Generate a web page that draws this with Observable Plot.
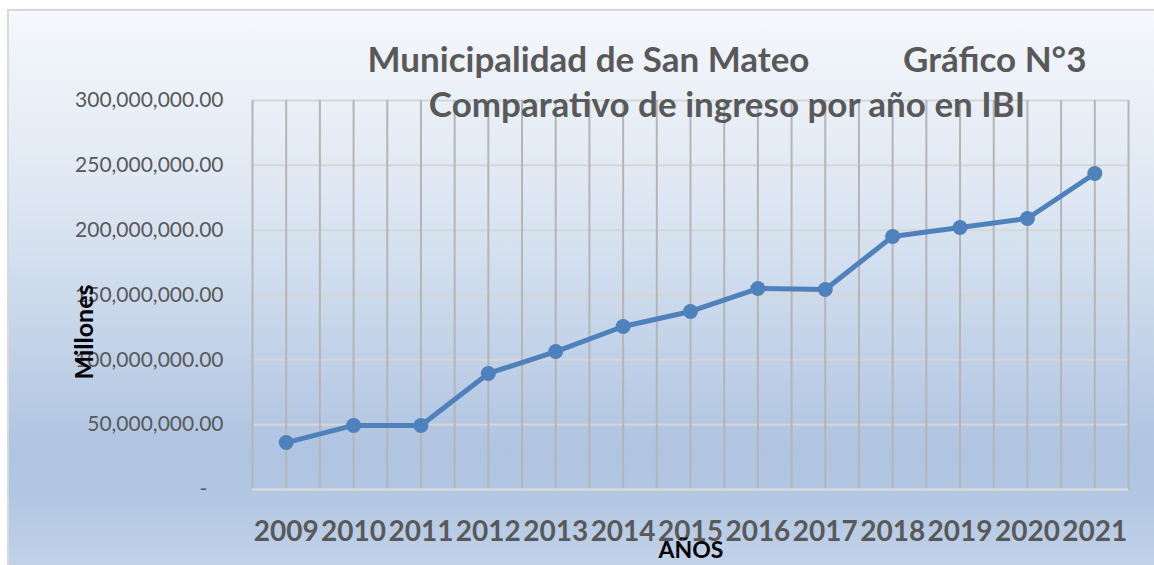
<!DOCTYPE html>
<html>
<head>
<meta charset="utf-8">
<script src="https://cdn.jsdelivr.net/npm/d3@7"></script>
<script src="https://cdn.jsdelivr.net/npm/@observablehq/plot@0.6"></script>
<style>
  html, body { margin: 0; padding: 0; background: #ffffff; }
  #wrap { position: relative; width: 1154px; height: 565px; overflow: hidden; background: #ffffff; }
  #bg { position: absolute; left: 7px; top: 9px; width: 1160px; height: 570px; box-sizing: border-box;
        border: 2px solid #d9d9d9;
        background: linear-gradient(to bottom, #f5f8fc 0%, #dce6f2 35%, #afc4e1 78%, #b2c7e2 86%, #c4d4ea 100%); }
  #chart { position: absolute; left: 0; top: 0; }
  #overlay { position: absolute; left: 0; top: 0; pointer-events: none; }
</style>
</head>
<body>
<div id="wrap">
  <div id="bg"></div>
  <div id="chart"></div>
  <svg id="overlay" width="1154" height="565" font-family="Lato, 'Open Sans', sans-serif">
    <text x="727" y="72" text-anchor="middle" font-size="35" font-weight="bold" fill="#595959" xml:space="preserve">Municipalidad de San Mateo           Gráfico N°3</text>
    <text x="727" y="117" text-anchor="middle" font-size="35" font-weight="bold" fill="#595959">Comparativo de ingreso por año en IBI</text>
    <text transform="translate(93,332) rotate(-90)" text-anchor="middle" font-size="25" font-weight="bold" fill="#000000">Millones</text>
    <text x="691" y="558" text-anchor="middle" font-size="23" font-weight="bold" fill="#000000">AÑOS</text>
  </svg>
</div>
<script>
const years = [2009, 2010, 2011, 2012, 2013, 2014, 2015, 2016, 2017, 2018, 2019, 2020, 2021];
const ingresos = [36.2e6, 49.4e6, 49.4e6, 89.5e6, 106.4e6, 125.7e6, 137.3e6, 155.0e6, 154.2e6, 195.1e6, 202.1e6, 209.0e6, 243.7e6];
const yTicks = [0, 50e6, 100e6, 150e6, 200e6, 250e6, 300e6];

const data = years.map((year, i) => ({year, value: ingresos[i]}));
const xGrid = years.flatMap(y => [y - 0.5, y]).concat([years[years.length - 1] + 0.5]);
const fmt = d3.format(",.2f");

const chart = Plot.plot({
  width: 1154,
  height: 565,
  marginLeft: 252,
  marginRight: 26,
  marginTop: 100,
  marginBottom: 76,
  style: {background: "transparent", color: "#595959", fontFamily: "Lato, 'Open Sans', sans-serif"},
  x: {domain: [years[0] - 0.5, years[years.length - 1] + 0.5]},
  y: {domain: [0, 300e6]},
  marks: [
    Plot.ruleY(yTicks.filter(d => d > 0), {stroke: "#d6d6d6", strokeWidth: 2}),
    Plot.ruleX(xGrid, {stroke: "#b5b5b5", strokeWidth: 2}),
    Plot.ruleY([0], {stroke: "#d9d9d9", strokeWidth: 2.5}),
    Plot.axisY({ticks: yTicks, tickSize: 0, tickPadding: 29, fontSize: 21,
      tickFormat: d => d === 0 ? "-\u00a0\u00a0\u00a0" : fmt(d), label: null}),
    Plot.axisX({ticks: years, tickSize: 0, tickPadding: 32, fontSize: 28, fontWeight: "bold",
      tickFormat: d => String(d), label: null}),
    Plot.line(data, {x: "year", y: "value", stroke: "#4f81bd", strokeWidth: 5}),
    Plot.dot(data, {x: "year", y: "value", r: 7.5, fill: "#4f81bd", stroke: "none"})
  ]
});
document.getElementById("chart").appendChild(chart);
</script>
</body>
</html>
